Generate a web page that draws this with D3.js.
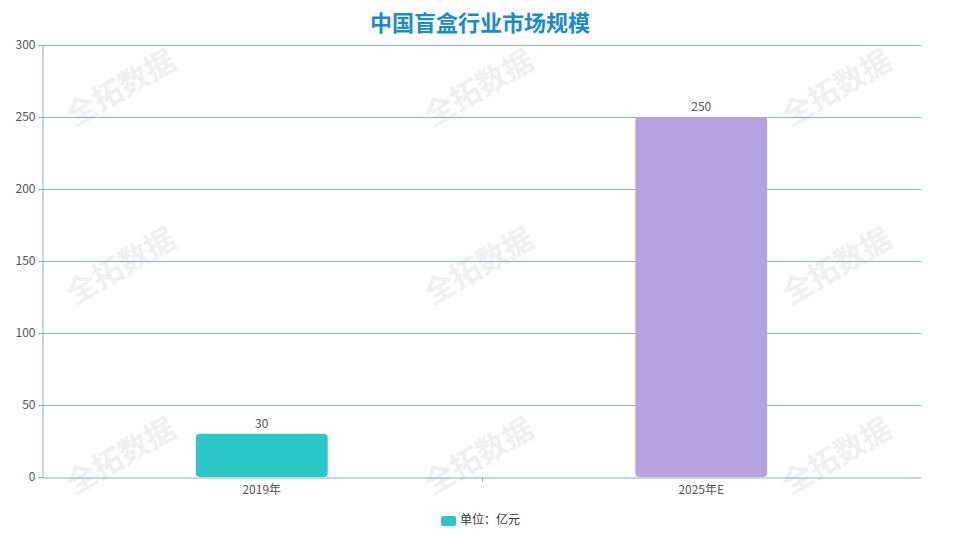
<!DOCTYPE html>
<html><head><meta charset="utf-8">
<script src="https://cdn.jsdelivr.net/npm/d3@7/dist/d3.min.js"></script>
<style>body{margin:0;background:#fff;} svg{display:block;}</style>
</head><body>
<svg id="c" width="960" height="541"></svg>
<script>
const categories = ["2019年", "2025年E"];
const values = [30, 250];
const colors = ["#2ec7c9", "#b6a2de"];
const yTicks = [0, 50, 100, 150, 200, 250, 300];
const title = "中国盲盒行业市场规模";
const legendLabel = "单位：亿元";
const watermark = "全拓数据";

const svg = d3.select("#c");
const W = 960, H = 541;
const m = {left: 42, right: 39, top: 45, bottom: 64};
const x = d3.scaleBand().domain(categories).range([m.left, W - m.right]);
const y = d3.scaleLinear().domain([0, 300]).range([H - m.bottom, m.top]);
const font = "'Noto Sans CJK SC','Noto Sans',sans-serif";

// watermarks
const wmX = [122, 480, 838], wmY = [90, 268, 458];
wmY.forEach(wy => wmX.forEach(wx => {
  svg.append("text").attr("transform", `translate(${wx},${wy}) rotate(-30)`)
    .attr("text-anchor", "middle").attr("dominant-baseline", "middle")
    .attr("font-family", font).attr("font-size", 30).attr("font-weight", "bold")
    .attr("fill", "#f0f0f0").text(watermark);
}));

// grid
const axisColor = "#8fb0b8";
svg.append("g").selectAll("line").data(yTicks.filter(d => d > 0)).join("line")
  .attr("x1", m.left).attr("x2", W - m.right)
  .attr("y1", d => Math.round(y(d)) + 0.5).attr("y2", d => Math.round(y(d)) + 0.5)
  .attr("stroke", axisColor).attr("stroke-width", 1);

// y axis
const ya = svg.append("g").attr("transform", `translate(${m.left + 0.5},0)`)
  .call(d3.axisLeft(y).tickValues(yTicks).tickSize(4).tickPadding(3));
ya.select(".domain").attr("stroke", axisColor);
ya.selectAll(".tick line").attr("stroke", axisColor);
ya.selectAll("text").attr("fill", "#555").attr("font-size", 12).attr("font-family", font);

// x axis
const xa = svg.append("g").attr("transform", `translate(0,${Math.round(y(0)) + 0.5})`)
  .call(d3.axisBottom(x).tickSize(0).tickPadding(8));
xa.select(".domain").attr("stroke", axisColor);
xa.selectAll("text").attr("fill", "#555").attr("font-size", 12).attr("font-family", font);
// band boundary ticks
svg.append("g").selectAll("line").data(categories.slice(1)).join("line")
  .attr("x1", d => Math.round(x(d)) + 0.5).attr("x2", d => Math.round(x(d)) + 0.5)
  .attr("y1", y(0)).attr("y2", y(0) + 5).attr("stroke", axisColor);

// bars
const bw = x.bandwidth() * 0.3;
svg.append("g").selectAll("rect").data(values).join("rect")
  .attr("x", (d, i) => x(categories[i]) + x.bandwidth() / 2 - bw / 2)
  .attr("y", d => y(d)).attr("width", bw).attr("height", d => y(0) - y(d))
  .attr("rx", 4).attr("fill", (d, i) => colors[i]);
svg.append("g").selectAll("text").data(values).join("text")
  .attr("x", (d, i) => x(categories[i]) + x.bandwidth() / 2)
  .attr("y", d => y(d) - 6).attr("text-anchor", "middle")
  .attr("font-size", 12).attr("font-family", font).attr("fill", "#555").text(d => d);

// title
svg.append("text").attr("x", 480).attr("y", 31).attr("text-anchor", "middle")
  .attr("font-family", font).attr("font-size", 22).attr("font-weight", "bold")
  .attr("fill", "#1a8cc9").text(title);

// legend
svg.append("rect").attr("x", 441).attr("y", 516).attr("width", 15).attr("height", 10)
  .attr("rx", 2).attr("fill", colors[0]);
svg.append("text").attr("x", 460).attr("y", 521).attr("dominant-baseline", "middle")
  .attr("font-size", 12).attr("font-family", font).attr("fill", "#333").text(legendLabel);
</script>
</body></html>
